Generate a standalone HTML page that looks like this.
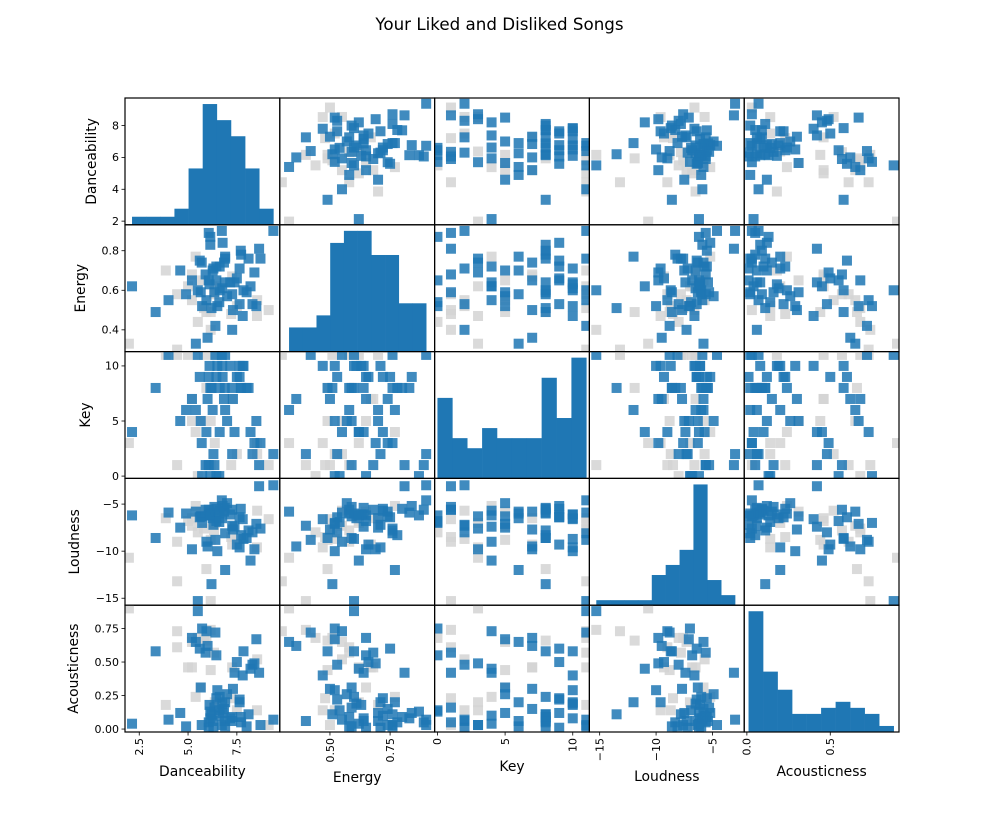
<!DOCTYPE html>
<html><head><meta charset="utf-8"><style>
html,body{margin:0;padding:0;background:#fff;}
svg{display:block;font-family:"DejaVu Sans","Liberation Sans",sans-serif;}
</style></head><body>
<svg id="fig" width="999" height="822" viewBox="0 0 999 822" xmlns="http://www.w3.org/2000/svg">
<rect width="999" height="822" fill="#fff"/>
<text x="499.5" y="30" text-anchor="middle" font-size="16.7" fill="#000">Your Liked and Disliked Songs</text>
<defs id="defs"></defs>
<g id="cells"></g>
</svg>
<script>
const varNames = ["Danceability","Energy","Key","Loudness","Acousticness"];
// liked songs (blue)
const likedDance = [6.06,6.14,6.14,6.73,6.77,9.37,5.70,6.26,6.45,6.62,6.84,6.90,7.64,7.70,7.72,8.10,8.64,8.71,6.06,6.45,6.88,7.16,7.38,6.75,6.62,5.65,5.94,6.50,7.26,7.84,8.0,7.64,3.34,7.26,2.13,4.0,4.6,4.9,5.2,5.4,5.5,5.6,5.72,5.9,6.0,6.1,6.2,6.3,6.35,6.4,6.6,6.9,7.0,7.3,7.5,7.8,8.2,8.3,8.4,8.5];
const likedEnergy = [.89,.87,.83,.90,.84,.90,.74,.70,.72,.72,.74,.76,.71,.80,.78,.76,.81,.76,.65,.65,.64,.64,.64,.61,.60,.59,.55,.52,.58,.60,.59,.53,.49,.40,.62,.55,.70,.58,.65,.33,.60,.75,.52,.68,.36,.63,.51,.71,.59,.42,.54,.77,.57,.50,.66,.47,.62,.53,.69,.52];
const likedKey = [1,0,8,11,9,2,3,6,9,4,7,11,10,8,8,8,1,3,9,0,8,10,4,10,8,5,4,10,8,10,8,9,8,2,4,11,5,6,7,6,11,9,0,1,7,10,8,2,1,11,0,6,5,7,9,10,4,2,3,5];
const likedLoud = [-5.6,-6.2,-5.9,-4.6,-5.2,-3.0,-6.3,-6.5,-5.5,-5.7,-5.8,-8.1,-9.6,-5.5,-8.3,-7.8,-3.1,-7.6,-6.2,-6.8,-5.4,-6.1,-7.4,-6.5,-6.0,-6.3,-9.0,-10.0,-5.6,-8.7,-8.6,-6.4,-8.6,-7.3,-6.2,-5.9,-7.5,-6.0,-9.8,-5.8,-15.3,-6.4,-7.0,-5.6,-9.5,-6.1,-13.5,-7.2,-5.3,-8.8,-6.9,-12.0,-4.9,-7.7,-9.3,-6.6,-11.0,-8.0,-9.8,-7.1];
const likedAcoust = [.05,.13,.08,.03,.12,.07,.03,.06,.23,.10,.15,.02,.20,.09,.05,.11,.42,.03,.01,.55,.06,.08,.42,.19,.24,.31,.73,.29,.09,.58,.02,.22,.58,.06,.04,.07,.12,.02,.68,.65,.88,.60,.75,.57,.62,.18,.11,.01,.16,.72,.14,.20,.26,.30,.50,.40,.45,.48,.49,.67];
// disliked songs (grey)
const dislikedDance = [1.97,3.86,4.44,4.44,5.2,5.2,5.39,5.65,5.82,5.94,6.16,6.16,6.33,6.37,7.21,7.26,7.5,8.54,8.53,9.13,5.0,5.5];
const dislikedEnergy = [.33,.70,.58,.30,.68,.55,.77,.65,.51,.49,.49,.40,.58,.62,.48,.67,.52,.55,.47,.50,.62,.44];
const dislikedKey = [3,11,1,11,7,5,4,5,11,8,5,1,11,3,1,7,2,2,3,1,11,0];
const dislikedLoud = [-10.7,-6.5,-9.0,-13.2,-6.5,-7.3,-5.2,-5.8,-7.6,-11.9,-8.8,-15.3,-7.8,-7.0,-8.5,-9.3,-8.7,-5.7,-9.6,-6.6,-6.8,-8.0];
const dislikedAcoust = [.90,.18,.61,.73,.46,.65,.24,.31,.68,.66,.44,.74,.57,.20,.23,.46,.14,.52,.14,.03,.46,.68];
// tick labels
const yTickVals = [[2,4,6,8],[0.4,0.6,0.8],[0,5,10],[-15,-10,-5],[0,0.25,0.5,0.75]];
const yTickLabels = [["2","4","6","8"],["0.4","0.6","0.8"],["0","5","10"],["\u221215","\u221210","\u22125"],["0.00","0.25","0.50","0.75"]];
const xTickVals = [[2.5,5,7.5],[0.5,0.75],[0,5,10],[-15,-10,-5],[0,0.5]];
const xTickLabels = [["2.5","5.0","7.5"],["0.50","0.75"],["0","5","10"],["\u221215","\u221210","\u22125"],["0.0","0.5"]];

const liked = [likedDance,likedEnergy,likedKey,likedLoud,likedAcoust];
const disliked = [dislikedDance,dislikedEnergy,dislikedKey,dislikedLoud,dislikedAcoust];
const X0=125, Y0=98, CW=154.8, CH=126.8;
const xLim = [[1.77,9.70],[0.2915,0.935],[-0.21,11.23],[-15.91,-2.19],[-0.016,0.912]];
const yLim = [[1.77,9.73],[0.29,0.931],[-0.21,11.3],[-15.74,-2.27],[-0.022,0.924]];
const NS="http://www.w3.org/2000/svg";
const svg=document.getElementById('fig');
const defs=document.getElementById('defs');
const cells=document.getElementById('cells');
function mk(tag,attrs,parent){const e=document.createElementNS(NS,tag);for(const k in attrs)e.setAttribute(k,attrs[k]);if(parent)parent.appendChild(e);return e;}
function sx(col,v){const [a,b]=xLim[col];return X0+col*CW+(v-a)/(b-a)*CW;}
function sy(row,v){const [a,b]=yLim[row];return Y0+(row+1)*CH-(v-a)/(b-a)*CH;}
const S=10;
for(let r=0;r<5;r++){for(let c=0;c<5;c++){
  const cx=X0+c*CW, cy=Y0+r*CH;
  const cp=mk('clipPath',{id:'cp'+r+'_'+c},defs);
  mk('rect',{x:cx,y:cy,width:CW,height:CH},cp);
  const g=mk('g',{'clip-path':'url(#cp'+r+'_'+c+')'},cells);
  
  
  if(r===c){
    const vals=liked[c];const mn=Math.min(...vals),mx=Math.max(...vals);
    const nb=10,w=(mx-mn)/nb;const counts=new Array(nb).fill(0);
    vals.forEach(v=>{let i=Math.floor((v-mn)/w);if(i>=nb)i=nb-1;counts[i]++;});
    const mc=Math.max(...counts);
    counts.forEach((n,i)=>{
      const x1=sx(c,mn+i*w),x2=sx(c,mn+(i+1)*w);const h=n/(mc*1.05)*CH;
      const b=mk('rect',{x:x1,y:cy+CH-h,width:x2-x1+0.3,height:h,fill:'#1f77b4'},g);
      
      
    });
  } else {
    const dx=disliked[c],dy=disliked[r];
    for(let i=0;i<dx.length;i++){
      const p=mk('rect',{x:sx(c,dx[i])-S/2,y:sy(r,dy[i])-S/2,width:S,height:S,fill:'#d3d3d3','fill-opacity':0.85},g);
      
      
    }
    const lx=liked[c],ly=liked[r];
    for(let i=0;i<lx.length;i++){
      const p=mk('rect',{x:sx(c,lx[i])-S/2,y:sy(r,ly[i])-S/2,width:S,height:S,fill:'#1f77b4','fill-opacity':0.85},g);
      
      
    }
  }
  const fr=mk('rect',{x:cx,y:cy,width:CW,height:CH,fill:'none',stroke:'#000','stroke-width':1.2},cells);
  
  
}}
// y axis ticks
const ylabX=[96,85,90,79,78];
for(let r=0;r<5;r++){
  yTickVals[r].forEach((v,i)=>{
    const y=sy(r,v);
    mk('line',{x1:X0-3.5,x2:X0,y1:y,y2:y,stroke:'#000','stroke-width':0.8},svg);
    const t=mk('text',{x:X0-6,y:y+3.8,'text-anchor':'end','font-size':11,fill:'#000'},svg);
    t.textContent=yTickLabels[r][i];
    
    
  });
  const cyc=Y0+r*CH+CH/2;
  const yl=mk('text',{x:ylabX[r],y:cyc,'text-anchor':'middle','font-size':13.9,fill:'#000',transform:'rotate(-90 '+ylabX[r]+' '+cyc+')'},svg);
  yl.textContent=varNames[r];
  
  
}
// x axis ticks
const YB=Y0+5*CH;
const xlabY=[776,782,771,781,776];
for(let c=0;c<5;c++){
  xTickVals[c].forEach((v,i)=>{
    const x=sx(c,v);
    mk('line',{x1:x,x2:x,y1:YB,y2:YB+3.5,stroke:'#000','stroke-width':0.8},svg);
    const tx=x+3.8,ty=YB+6;
    const t=mk('text',{x:tx,y:ty,'text-anchor':'end','font-size':11,fill:'#000',transform:'rotate(-90 '+tx+' '+ty+')'},svg);
    t.textContent=xTickLabels[c][i];
    
    
  });
  const xl=mk('text',{x:X0+c*CW+CW/2,y:xlabY[c],'text-anchor':'middle','font-size':13.9,fill:'#000'},svg);
  xl.textContent=varNames[c];
  
  
}
</script>
</body></html>
